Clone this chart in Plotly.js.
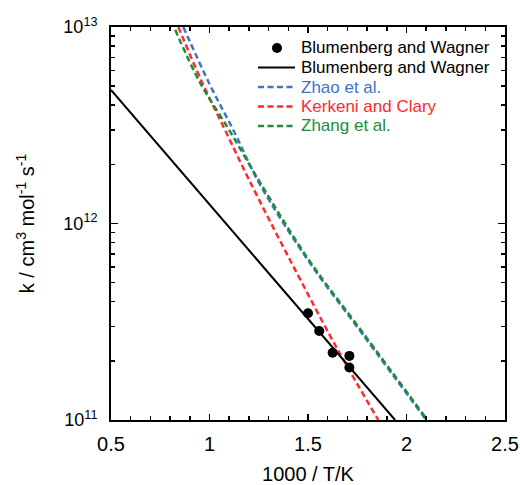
<!DOCTYPE html>
<html>
<head>
<meta charset="utf-8">
<script src="https://cdn.plot.ly/plotly-3.0.1.min.js"></script>
<style>html,body{margin:0;padding:0;background:#fff;}#chart{width:520px;height:485px;}</style>
</head>
<body>
<div id="chart"></div>
<script>
// Experimental points (Blumenberg and Wagner)
const expX = [1.50, 1.557, 1.625, 1.710, 1.710];
const expK = [3.49e11, 2.84e11, 2.20e11, 2.12e11, 1.85e11];

// Arrhenius fit (Blumenberg and Wagner)
const fitX = [0.5, 1.942];
const fitK = [4.78e12, 1.0e11];

// Zhao et al.
const zhaoX = [0.867, 1.0, 1.126, 1.253, 1.50, 1.781, 2.10];
const zhaoK = [1.0e13, 5.13e12, 2.92e12, 1.60e12, 6.50e11, 2.70e11, 1.0e11];

// Kerkeni and Clary
const kerkX = [0.842, 0.957, 1.079, 1.202, 1.409, 1.652, 1.857];
const kerkK = [1.0e13, 5.37e12, 2.99e12, 1.66e12, 6.52e11, 2.27e11, 1.0e11];

// Zhang et al.
const zhangX = [0.82, 0.95, 1.10, 1.253, 1.50, 1.781, 2.10];
const zhangK = [1.0e13, 5.25e12, 2.99e12, 1.64e12, 6.62e11, 2.76e11, 1.02e11];

const xTicks = [0.5, 1, 1.5, 2, 2.5];
const yTicks = [1e11, 1e12, 1e13];
const yTickText = ['10<sup>11</sup>', '10<sup>12</sup>', '10<sup>13</sup>'];
const yMinor = [2e11,3e11,4e11,5e11,6e11,7e11,8e11,9e11,2e12,3e12,4e12,5e12,6e12,7e12,8e12,9e12];

// Legend entries
const legendNames = ['Blumenberg and Wagner', 'Blumenberg and Wagner', 'Zhao et al.', 'Kerkeni and Clary', 'Zhang et al.'];

const BLUE = '#4472C4', RED = '#FF2A2A', GREEN = '#1E8C3C';
const legendColors = ['#000', '#000', BLUE, RED, GREEN];
const FONT = '"Liberation Sans", Arial, sans-serif';
const DASH_ON = 6, DASH_OFF = 3.5;
const DASH = DASH_ON + 'px,' + DASH_OFF + 'px';

const traces = [
  {x: zhaoX, y: zhaoK, mode: 'lines', type: 'scatter', line: {color: BLUE, width: 2.5, dash: DASH, shape: 'spline'}, name: legendNames[2], showlegend: false},
  {x: kerkX, y: kerkK, mode: 'lines', type: 'scatter', line: {color: RED, width: 2.5, dash: DASH, shape: 'spline'}, name: legendNames[3], showlegend: false},
  {x: zhangX, y: zhangK, mode: 'lines', type: 'scatter', line: {color: GREEN, width: 2.5, dash: DASH, shape: 'spline'}, name: legendNames[4], showlegend: false},
  {x: fitX, y: fitK, mode: 'lines', type: 'scatter', name: legendNames[1], line: {color: '#000', width: 2}, showlegend: false},
  {x: expX, y: expK, mode: 'markers', type: 'scatter', name: legendNames[0], marker: {color: '#000', size: 10}, showlegend: false}
];

// Manual legend (pixel layout inside plot area: x 111..505, y 27..420)
const pxX = p => (p - 111) / 394;
const pxY = p => (420 - p) / 393;
const rowY = [48, 67.5, 87, 106.5, 126];
const annotations = legendNames.map((n, i) => ({
  xref: 'paper', yref: 'paper', x: pxX(299), y: pxY(rowY[i]), xanchor: 'left', yanchor: 'middle',
  text: n, showarrow: false, font: {family: FONT, size: 17, color: legendColors[i]}
}));
const shapes = [
  {type: 'circle', xref: 'paper', yref: 'paper', xsizemode: 'pixel', ysizemode: 'pixel',
   xanchor: pxX(277), yanchor: pxY(rowY[0]), x0: -5, x1: 5, y0: -5, y1: 5,
   fillcolor: '#000', line: {color: '#000', width: 0}},
  {type: 'line', xref: 'paper', yref: 'paper', x0: pxX(258), x1: pxX(295), y0: pxY(rowY[1]), y1: pxY(rowY[1]), line: {color: '#000', width: 2}},
  {type: 'line', xref: 'paper', yref: 'paper', x0: pxX(258), x1: pxX(295), y0: pxY(rowY[2]), y1: pxY(rowY[2]), line: {color: BLUE, width: 2.5, dash: DASH}},
  {type: 'line', xref: 'paper', yref: 'paper', x0: pxX(258), x1: pxX(295), y0: pxY(rowY[3]), y1: pxY(rowY[3]), line: {color: RED, width: 2.5, dash: DASH}},
  {type: 'line', xref: 'paper', yref: 'paper', x0: pxX(258), x1: pxX(295), y0: pxY(rowY[4]), y1: pxY(rowY[4]), line: {color: GREEN, width: 2.5, dash: DASH}}
];

const layout = {
  width: 520, height: 485,
  margin: {l: 111, r: 15, t: 27, b: 65},
  paper_bgcolor: '#fff', plot_bgcolor: '#fff',
  font: {family: FONT, color: '#000', size: 18},
  showlegend: false,
  annotations: annotations,
  shapes: shapes,
  xaxis: {
    range: [0.5, 2.5], tickvals: xTicks, ticks: 'inside', ticklen: 6, tickwidth: 1.5, tickcolor: '#000',
    showline: true, linecolor: '#000', linewidth: 2, mirror: 'ticks', showgrid: false, zeroline: false,
    tickfont: {size: 20}, ticklabelstandoff: 5,
    minor: {dtick: 0.1, ticks: 'inside', ticklen: 4, tickwidth: 1.5, tickcolor: '#000', showgrid: false},
    title: {text: '1000 / T/K', font: {size: 20}, standoff: 25}
  },
  yaxis: {
    type: 'log', range: [11, 13], tickmode: 'array', tickvals: yTicks, ticktext: yTickText,
    ticks: 'inside', ticklen: 7, tickwidth: 1.5, tickcolor: '#000',
    showline: true, linecolor: '#000', linewidth: 2, mirror: 'ticks', showgrid: false, zeroline: false,
    tickfont: {size: 18}, ticklabelstandoff: 8,
    minor: {tickmode: 'array', tickvals: yMinor, ticks: 'inside', ticklen: 4, tickwidth: 1.5, tickcolor: '#000', showgrid: false},
    title: {text: 'k / cm<sup>3</sup> mol<sup>-1</sup> s<sup>-1</sup>', font: {size: 20}, standoff: 23}
  }
};

Plotly.newPlot('chart', traces, layout, {displayModeBar: false, staticPlot: true}).then(() => {
  // Align the dash phase of the two overlapping dashed curves (Zhao / Zhang) at their common end
  const lines = document.querySelectorAll('.scatterlayer .trace path.js-line');
  if (lines.length >= 3) {
    const blue = lines[0], green = lines[2];
    const period = DASH_ON + DASH_OFF;
    const d = (((blue.getTotalLength() - green.getTotalLength()) % period) + period) % period;
    green.style.strokeDashoffset = d + 'px';
  }
});
</script>
</body>
</html>
